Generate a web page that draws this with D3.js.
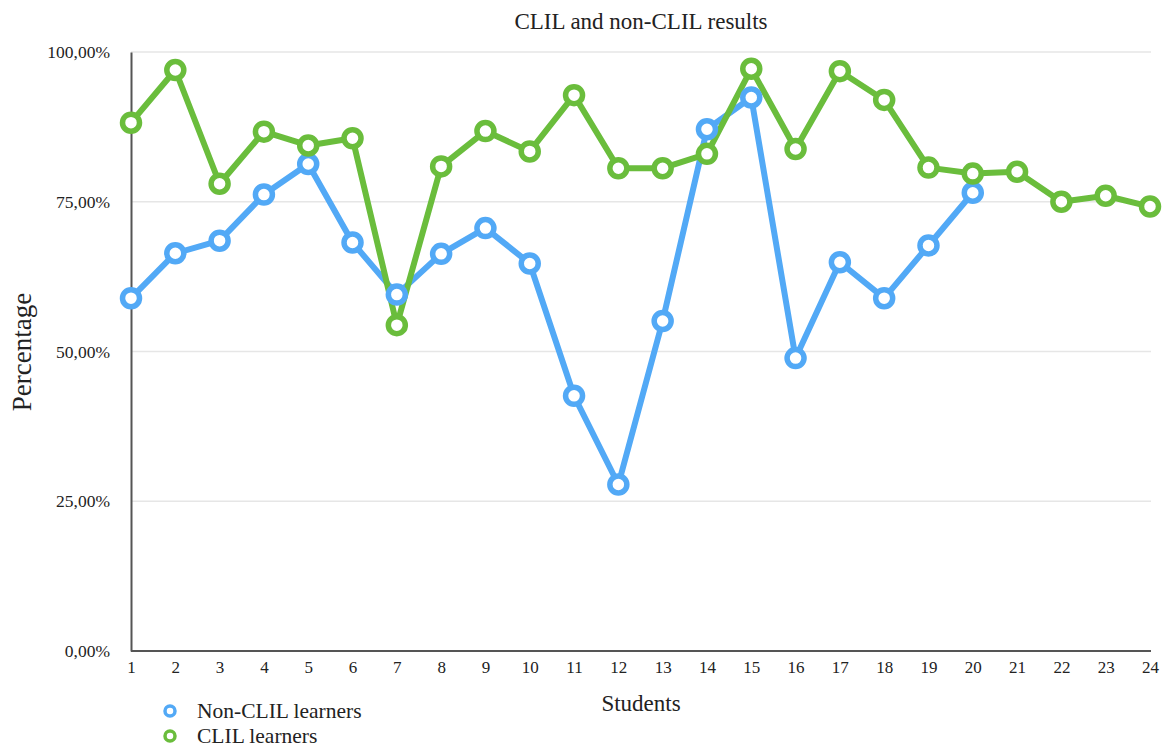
<!DOCTYPE html>
<html>
<head>
<meta charset="utf-8">
<script src="https://cdn.jsdelivr.net/npm/d3@7"></script>
<style>
  body { margin: 0; background: #fff; }
  text { font-family: "Liberation Serif", "DejaVu Serif", serif; fill: #222; }
</style>
</head>
<body>
<div id="chart"></div>
<script>
// data
var students = d3.range(1, 25);
var nonClil = [58.9, 66.4, 68.5, 76.2, 81.3, 68.2, 59.5, 66.3, 70.6, 64.7,
  42.6, 27.8, 55.1, 87.1, 92.4, 48.9, 64.9, 58.9, 67.7, 76.5];
var clil = [88.2, 97.0, 78.0, 86.7, 84.4, 85.6, 54.4, 80.9, 86.8, 83.4,
  92.8, 80.6, 80.6, 83.0, 97.2, 83.8, 96.8, 92.0, 80.7, 79.7,
  80.0, 75.0, 76.0, 74.2];
var yTicks = [0, 25, 50, 75, 100];
var seriesNames = ["Non-CLIL learners", "CLIL learners"];
var colors = ["#52a9f6", "#6abd3c"];

var W = 1162, H = 747;
var margin = { top: 52, right: 11, bottom: 96, left: 131 },
  width = W - margin.left - margin.right,
  height = H - margin.top - margin.bottom;

var svg = d3.select("#chart").append("svg")
  .attr("width", W)
  .attr("height", H);

var g = svg.append("g")
  .attr("transform", "translate(" + margin.left + "," + margin.top + ")");

var x = d3.scaleLinear().domain([1, 24]).range([0, width - 1]);
var y = d3.scaleLinear().domain([0, 100]).range([height, 0]);

// gridlines
g.append("g")
  .selectAll("line")
  .data(yTicks.filter(function (d) { return d > 0; }))
  .enter().append("line")
  .attr("x1", 0).attr("x2", width)
  .attr("y1", function (d) { return y(d); })
  .attr("y2", function (d) { return y(d); })
  .style("stroke", "#e6e6e6")
  .style("stroke-width", 1.5);

// y axis
var fmt = function (d) { return d.toFixed(2).replace(".", ",") + "%"; };
var yAxis = g.append("g")
  .call(d3.axisLeft(y).tickValues(yTicks).tickFormat(fmt).tickSize(0).tickPadding(21));
yAxis.select(".domain").style("stroke", "#555").style("stroke-width", 2);
yAxis.selectAll("text").style("font-size", "17.5px").style("font-family", "Liberation Serif").attr("fill", "#333");

// x axis
var xAxis = g.append("g")
  .attr("transform", "translate(0," + height + ")")
  .call(d3.axisBottom(x).tickValues(students).tickFormat(d3.format("d")).tickSize(0).tickPadding(10));
xAxis.select(".domain").attr("d", "M0,0H" + width).style("stroke", "#555").style("stroke-width", 2);
xAxis.selectAll("text").style("font-size", "17px").style("font-family", "Liberation Serif").attr("fill", "#333");

// lines + markers
var line = d3.line()
  .x(function (d, i) { return x(i + 1); })
  .y(function (d) { return y(d); });

[nonClil, clil].forEach(function (vals, k) {
  g.append("path")
    .datum(vals)
    .attr("d", line)
    .style("fill", "none")
    .style("stroke", colors[k])
    .style("stroke-width", 6)
    .style("stroke-linejoin", "round");
});

// markers drawn after both lines so they sit on top
[nonClil, clil].forEach(function (vals, k) {
  g.selectAll(".m" + k)
    .data(vals)
    .enter().append("circle")
    .attr("cx", function (d, i) { return x(i + 1); })
    .attr("cy", function (d) { return y(d); })
    .attr("r", 8.5)
    .style("fill", "#fff")
    .style("stroke", colors[k])
    .style("stroke-width", 5.5);
});

// title and axis labels
svg.append("text")
  .attr("x", 641).attr("y", 29)
  .attr("text-anchor", "middle")
  .style("font-size", "23px")
  .text("CLIL and non-CLIL results");

svg.append("text")
  .attr("x", 641).attr("y", 711)
  .attr("text-anchor", "middle")
  .style("font-size", "23px")
  .text("Students");

svg.append("text")
  .attr("transform", "translate(31,352) rotate(-90)")
  .attr("text-anchor", "middle")
  .style("font-size", "27px")
  .text("Percentage");

// legend
var legend = svg.append("g");
seriesNames.forEach(function (name, k) {
  var ly = 711 + k * 25;
  legend.append("circle")
    .attr("cx", 170).attr("cy", ly)
    .attr("r", 5)
    .style("fill", "#fff")
    .style("stroke", colors[k])
    .style("stroke-width", 3.5);
  legend.append("text")
    .attr("x", 197).attr("y", ly + 7)
    .style("font-size", "21.5px")
    .text(name);
});
</script>
</body>
</html>
